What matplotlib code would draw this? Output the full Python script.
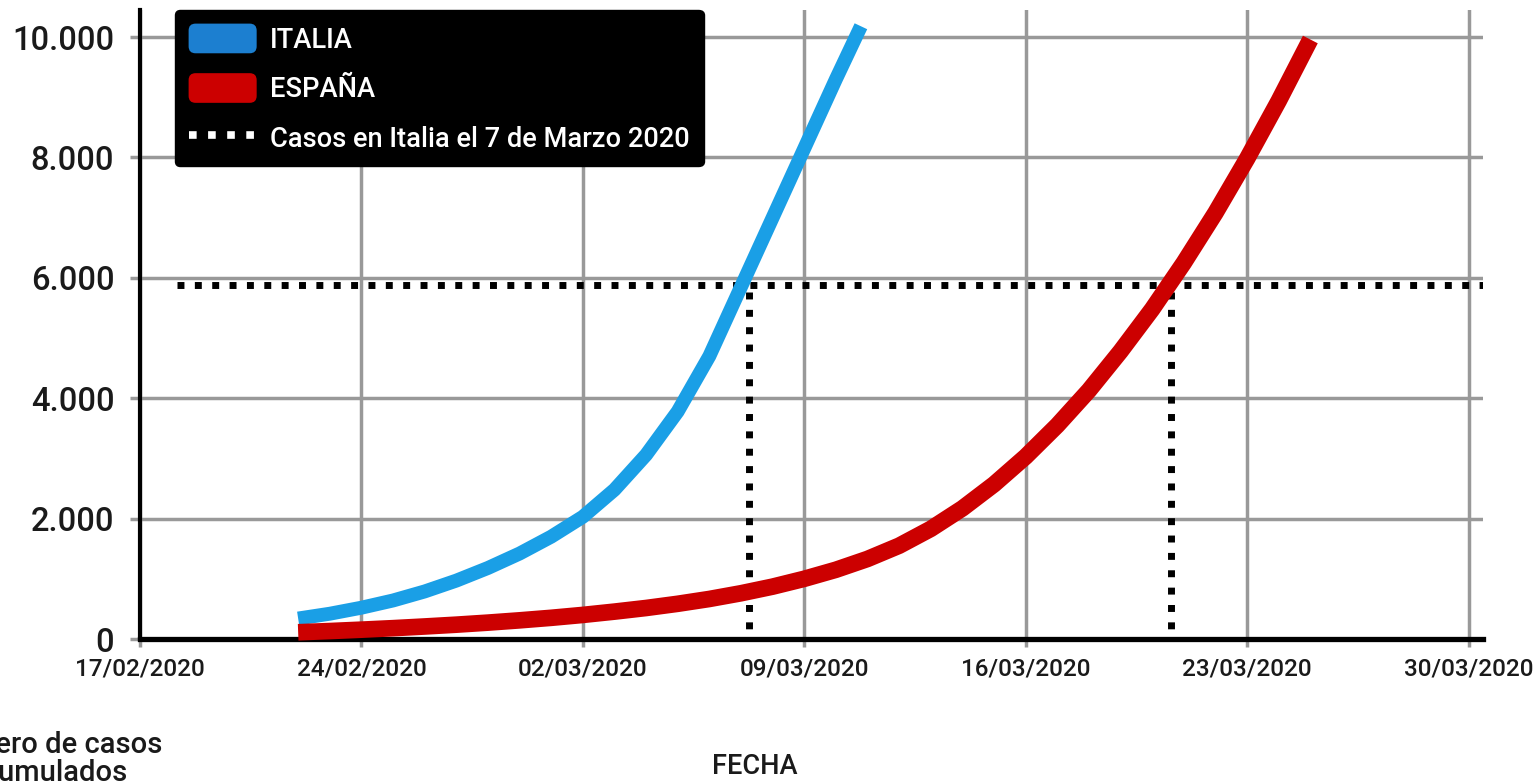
import matplotlib
matplotlib.use('Agg')
import matplotlib.pyplot as plt
import pandas as pd
from matplotlib.patches import FancyBboxPatch, Patch
from matplotlib.lines import Line2D
from matplotlib.legend_handler import HandlerPatch

plt.rcParams['font.family'] = ['Roboto', 'DejaVu Sans']
plt.rcParams['font.weight'] = 'medium'

# ---------------- data ----------------
italia_dates = ['2020-02-22', '2020-02-23', '2020-02-24', '2020-02-25', '2020-02-26',
                '2020-02-27', '2020-02-28', '2020-02-29', '2020-03-01', '2020-03-02',
                '2020-03-03', '2020-03-04', '2020-03-05', '2020-03-06', '2020-03-07',
                '2020-03-08', '2020-03-09', '2020-03-10', '2020-03-10 19:00']
italia_cases = [340, 420, 520, 640, 790, 970, 1180, 1420, 1700, 2030,
                2480, 3060, 3780, 4700, 5850, 7000, 8150, 9300, 10180]

espana_dates = ['2020-02-22', '2020-02-23', '2020-02-24', '2020-02-25', '2020-02-26',
                '2020-02-27', '2020-02-28', '2020-02-29', '2020-03-01', '2020-03-02',
                '2020-03-03', '2020-03-04', '2020-03-05', '2020-03-06', '2020-03-07',
                '2020-03-08', '2020-03-09', '2020-03-10', '2020-03-11', '2020-03-12',
                '2020-03-13', '2020-03-14', '2020-03-15', '2020-03-16', '2020-03-17',
                '2020-03-18', '2020-03-19', '2020-03-20', '2020-03-21', '2020-03-22',
                '2020-03-23', '2020-03-24', '2020-03-25']
espana_cases = [112, 132, 155, 180, 208, 238, 272, 310, 352, 400,
                455, 515, 585, 665, 760, 870, 1000, 1150, 1330, 1550,
                1830, 2170, 2570, 3030, 3550, 4130, 4780, 5480, 6250, 7080,
                7980, 8940, 9960]

ref_value = 5883                      # Casos en Italia el 7 de Marzo 2020
ref_h_start = '2020-02-18 04:00'
ref_italia_date = '2020-03-07 06:00'
ref_espana_date = '2020-03-20 14:00'

x_start = '2020-02-17'
x_end = '2020-03-30 11:00'
tick_dates = ['2020-02-17', '2020-02-24', '2020-03-02', '2020-03-09',
              '2020-03-16', '2020-03-23', '2020-03-30']
y_ticks = [0, 2000, 4000, 6000, 8000, 10000]
y_max = 10450

legend_labels = ['ITALIA', 'ESPAÑA', 'Casos en Italia el 7 de Marzo 2020']
x_title = 'FECHA'
y_title = 'Número de casos\nacumulados'


def dt(values):
    return pd.to_datetime(values, format='mixed')


# ---------------- styling ----------------
BLUE = '#1a9fe6'
BLUE_LEG = '#1c7fd0'
RED = '#cc0000'
GRID = '#999999'
TXT = '#1a1a1a'

fig = plt.figure(figsize=(15.39, 7.84), dpi=100)
W, H = 1539, 784
ax = fig.add_axes([140 / W, (784 - 639) / H, (1483 - 140) / W, (639 - 10) / H])

ax.plot(dt(italia_dates), italia_cases, color=BLUE, lw=10, solid_capstyle='butt',
        solid_joinstyle='round', zorder=5, clip_on=False)
ax.plot(dt(espana_dates), espana_cases, color=RED, lw=12, solid_capstyle='butt',
        solid_joinstyle='round', zorder=6, clip_on=False)

dot_style = dict(color='black', lw=5, linestyle=(0, (1, 1.5)), zorder=4,
                 dash_capstyle='butt')
ax.plot(dt([ref_h_start, x_end]), [ref_value, ref_value], **dot_style)
for d in [ref_italia_date, ref_espana_date]:
    ax.plot(dt([d, d]), [ref_value - 120, 0], **dot_style)

ax.set_xlim(dt([x_start])[0], dt([x_end])[0])
ax.set_ylim(0, y_max)

tx = dt(tick_dates)
ax.set_xticks(tx)
ax.set_xticklabels([d.strftime('%d/%m/%Y') for d in tx])
ax.set_yticks(y_ticks)
ax.set_yticklabels([f"{v:,}".replace(',', '.') for v in y_ticks])

ax.grid(True, color=GRID, lw=2.5, zorder=1)
ax.set_axisbelow(True)

for s in ['top', 'right']:
    ax.spines[s].set_visible(False)
ax.spines['left'].set_linewidth(3)
ax.spines['bottom'].set_linewidth(3.8)
ax.spines['left'].set_zorder(3)
ax.spines['bottom'].set_zorder(3)

ax.tick_params(axis='y', length=7.5, width=2.5, color=GRID, pad=11,
               labelsize=23.5, labelcolor=TXT)
ax.tick_params(axis='x', length=6, width=2.5, color=GRID, pad=7,
               labelsize=17.5, labelcolor=TXT)
ax.yaxis.get_major_ticks()[0].tick1line.set_color('black')
ax.xaxis.get_major_ticks()[0].tick1line.set_color('black')

# ---------------- legend ----------------
def rounded_patch(legend, orig_handle, xdescent, ydescent, width, height, fontsize):
    return FancyBboxPatch((-xdescent, -ydescent), width, height,
                          boxstyle='round,pad=0,rounding_size=5',
                          facecolor=orig_handle.get_facecolor(), edgecolor='none')


handles = [Patch(facecolor=BLUE_LEG), Patch(facecolor=RED),
           Line2D([], [], color='white', lw=5.5, linestyle=(0, (1, 1.5)),
                  dash_capstyle='butt')]
leg = fig.legend(handles, legend_labels, loc='upper left',
                 bbox_to_anchor=(175 / W, 1 - 10 / H), bbox_transform=fig.transFigure,
                 borderaxespad=0, prop={'size': 19.6, 'weight': 'medium'},
                 frameon=True, fancybox=True,
                 facecolor='black', edgecolor='black', framealpha=1,
                 handlelength=2.5, handleheight=1.3, handletextpad=0.5,
                 labelspacing=0.72, borderpad=0.5,
                 handler_map={Patch: HandlerPatch(patch_func=rounded_patch)})
for t in leg.get_texts():
    t.set_color('white')

# ---------------- titles ----------------
fig.text(755 / W, (784 - 767) / H, x_title, ha='center', va='center',
         fontsize=19.5, color=TXT)
fig.text(48 / W, (784 - 759) / H, y_title, ha='center', va='center',
         fontsize=21, color=TXT, linespacing=0.97, multialignment='center')

fig.savefig('out.png', dpi=100)
